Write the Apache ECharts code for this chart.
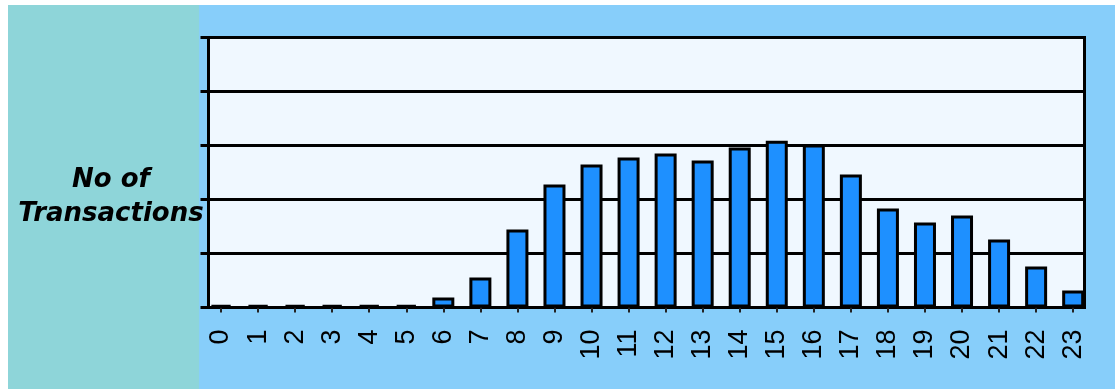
<!DOCTYPE html>
<html>
<head>
<meta charset="utf-8">
<script src="https://cdn.jsdelivr.net/npm/echarts@6/dist/echarts.min.js"></script>
<style>
  html, body { margin: 0; padding: 0; background: #ffffff; }
  #wrap { position: relative; width: 1115px; height: 389px; overflow: hidden; }
  #left { position: absolute; left: 8px; top: 5px; width: 191px; height: 384px; background: #8ed5d9; }
  #right { position: absolute; left: 199px; top: 5px; width: 916px; height: 384px; background: #87cefa; }
  #chart { position: absolute; left: 0; top: 0; width: 1115px; height: 389px; }
</style>
</head>
<body>
<div id="wrap">
  <div id="left"></div>
  <div id="right"></div>
  <div id="chart"></div>
</div>
<script>
// ---- data ----
const hours = ['0','1','2','3','4','5','6','7','8','9','10','11','12','13','14','15','16','17','18','19','20','21','22','23'];
const transactions = [50, 50, 50, 50, 50, 50, 185, 555, 1445, 2280, 2650, 2780, 2850, 2720, 2965, 3090, 3020, 2465, 1835, 1575, 1705, 1260, 760, 315];
const yMin = 0;
const yMax = 5000;
const yInterval = 1000;
const axisTitle = 'No of\nTransactions';

const chart = echarts.init(document.getElementById('chart'), null, { renderer: 'canvas' });

chart.setOption({
  backgroundColor: 'transparent',
  animation: false,
  title: {
    text: axisTitle,
    left: 106,
    top: 158,
    textAlign: 'center',
    textStyle: {
      fontFamily: "'DejaVu Sans', sans-serif",
      fontWeight: 'bold',
      fontStyle: 'italic',
      fontSize: 26,
      lineHeight: 34,
      color: '#000000'
    }
  },
  grid: [
    {
      left: 208.5, top: 37.5, width: 876, height: 270,
      show: true, backgroundColor: '#f0f8ff',
      borderColor: '#000000', borderWidth: 3
    },
    {
      left: 202.5, top: 37.5, width: 889.2, height: 270,
      show: false
    }
  ],
  xAxis: [
    {
      gridIndex: 0, type: 'value', min: 0, max: 1,
      axisLine: { show: false }, axisTick: { show: false },
      axisLabel: { show: false }, splitLine: { show: false }
    },
    {
      gridIndex: 1, type: 'category', data: hours,
      boundaryGap: true,
      axisLine: { show: false },
      axisTick: { show: true, alignWithLabel: true, length: 5, lineStyle: { color: '#222222', width: 2 } },
      axisLabel: {
        rotate: 90, margin: 22, interval: 0,
        fontFamily: "'Liberation Sans', Arial, sans-serif",
        fontSize: 27, color: '#000000'
      },
      splitLine: { show: false }
    }
  ],
  yAxis: [
    {
      gridIndex: 0, type: 'value', min: yMin, max: yMax, interval: yInterval,
      axisLine: { show: false },
      axisTick: { show: true, length: 8, lineStyle: { color: '#000000', width: 3 } },
      axisLabel: { show: false },
      splitLine: { show: true, lineStyle: { color: '#000000', width: 3 } }
    },
    {
      gridIndex: 1, type: 'value', min: yMin, max: yMax, interval: yInterval,
      show: false,
      splitLine: { show: false }
    }
  ],
  series: [
    {
      type: 'bar',
      xAxisIndex: 1, yAxisIndex: 1,
      data: transactions,
      barWidth: 22,
      itemStyle: { color: '#1e90ff', borderColor: '#000000', borderWidth: 3 }
    }
  ]
});
</script>
</body>
</html>
